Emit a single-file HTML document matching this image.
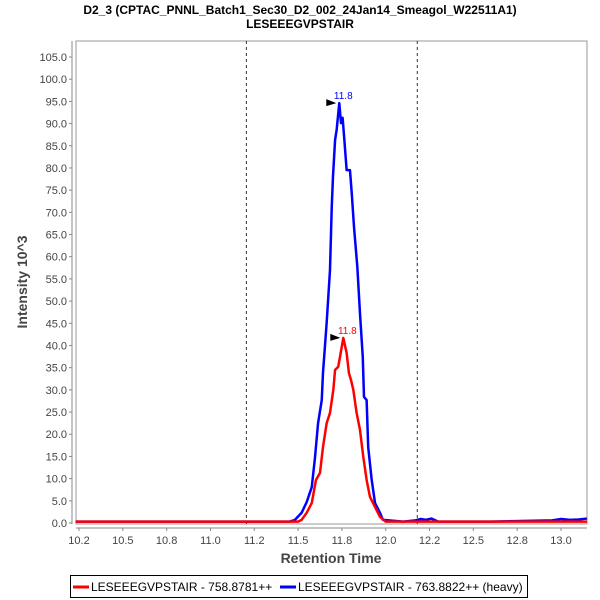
<!DOCTYPE html>
<html><head><meta charset="utf-8"><style>
body{margin:0;background:#fff;}
svg{display:block;font-family:"Liberation Sans",sans-serif;}
</style></head><body>
<svg id="chart" width="600" height="600">
<text x="300" y="14" text-anchor="middle" font-size="12" font-weight="bold">D2_3 (CPTAC_PNNL_Batch1_Sec30_D2_002_24Jan14_Smeagol_W22511A1)</text>
<text x="300" y="28" text-anchor="middle" font-size="12" font-weight="bold">LESEEEGVPSTAIR</text>
<rect x="76" y="41" width="511" height="483" fill="#fff" stroke="#999"/>
<line x1="72" y1="41" x2="72" y2="524" stroke="#888"/>
<line x1="76" y1="528" x2="587" y2="528" stroke="#888"/>
<g id="yticks"></g><g id="xticks"></g><g id="marks"></g>
<text transform="translate(27,282) rotate(-90)" text-anchor="middle" font-size="14" font-weight="bold" fill="#444">Intensity 10^3</text>
<text x="331" y="563" text-anchor="middle" font-size="14" font-weight="bold" fill="#444">Retention Time</text>
<g>
<rect x="70.5" y="575.5" width="457" height="22" fill="#fff" stroke="#000"/>
<line x1="73" y1="587" x2="89" y2="587" stroke="#f00" stroke-width="3"/>
<text x="91" y="591" font-size="12">LESEEEGVPSTAIR - 758.8781++</text>
<line x1="280" y1="587" x2="296" y2="587" stroke="#00f" stroke-width="3"/>
<text x="298" y="591" font-size="12">LESEEEGVPSTAIR - 763.8822++ (heavy)</text>
</g>
</svg>
<script>
const yTicks=[0,5,10,15,20,25,30,35,40,45,50,55,60,65,70,75,80,85,90,95,100,105];
const xTicks=[10.25,10.5,10.75,11,11.25,11.5,11.75,12,12.25,12.5,12.75,13];
const xTickLabels=["10.2","10.5","10.8","11.0","11.2","11.5","11.8","12.0","12.2","12.5","12.8","13.0"];
const markerTimes=[11.205,12.18];
const lightTimes=[10.23,10.6,11.0,11.50,11.520,11.549,11.578,11.602,11.625,11.642,11.663,11.682,11.701,11.711,11.729,11.743,11.758,11.777,11.790,11.802,11.815,11.834,11.853,11.872,11.891,11.910,11.939,11.967,12.0,12.4,12.8,13.148];
const lightValues=[0.3,0.3,0.3,0.3,0.7,2.3,4.5,9.7,11.3,17.1,22.5,24.8,30.0,34.5,35.2,38.3,41.7,38.3,33.8,32.2,30.0,24.8,21.0,14.9,9.7,5.9,3.6,1.4,0.3,0.3,0.3,0.3];
const heavyTimes=[10.23,10.6,11.0,11.45,11.482,11.520,11.549,11.578,11.596,11.614,11.635,11.642,11.663,11.682,11.692,11.699,11.711,11.720,11.735,11.745,11.754,11.764,11.777,11.796,11.806,11.819,11.838,11.853,11.869,11.876,11.891,11.900,11.920,11.939,11.967,11.984,12.1,12.17,12.2,12.23,12.26,12.3,12.6,12.95,13.0,13.05,13.1,13.148];
const heavyValues=[0.3,0.3,0.3,0.3,0.7,2.3,4.7,8.1,14.6,22.5,27.7,33.8,45.1,57.0,71.2,78.0,86.3,88.6,94.6,90.1,91.3,86.3,79.5,79.5,74.4,66.7,57.7,47.3,37.4,28.4,27.7,17.1,9.7,4.5,2.3,0.7,0.3,0.6,0.9,0.7,1.0,0.3,0.3,0.6,0.9,0.7,0.8,1.0];
const peakLabels=["11.8","11.8"];
const X0=10.25,X1=13.0,PX0=79,PX1=561,Y0=523,PYS=466/105;
function sx(t){return PX0+(t-X0)*(PX1-PX0)/(X1-X0);}
function sy(v){return Y0-v*PYS;}
const NS="http://www.w3.org/2000/svg";
function mk(tag,attrs,parent){const e=document.createElementNS(NS,tag);for(const k in attrs)e.setAttribute(k,attrs[k]);parent.appendChild(e);return e;}
const yg=document.getElementById('yticks'),xg=document.getElementById('xticks'),mg=document.getElementById('marks');
yTicks.forEach(v=>{
  const l=mk('line',{x1:69,x2:72,y1:sy(v),y2:sy(v),stroke:'#888'},yg);
  
  
  const t=mk('text',{x:67,y:sy(v)+4,'text-anchor':'end','font-size':11,fill:'#444'},yg);
  t.textContent=v.toFixed(1);
  
  
});
xTicks.forEach((v,i)=>{
  const l=mk('line',{x1:sx(v),x2:sx(v),y1:528,y2:531,stroke:'#888'},xg);
  
  
  const t=mk('text',{x:sx(v),y:544,'text-anchor':'middle','font-size':11,fill:'#444'},xg);
  t.textContent=xTickLabels[i];
  
  
});
markerTimes.forEach(m=>{
  const l=mk('line',{x1:sx(m),x2:sx(m),y1:41,y2:524,stroke:'#333','stroke-dasharray':'3,3'},mg);
  
  
});
function series(ts,vs,color,name){
  const p=mk('polyline',{points:ts.map((t,i)=>sx(t)+','+sy(vs[i])).join(' '),fill:'none',stroke:color,'stroke-width':2.5,'stroke-linejoin':'round'},mg);
  
  
}
series(heavyTimes,heavyValues,'#00f','heavy-series-line');
series(lightTimes,lightValues,'#f00','light-series-line');
function peak(ts,vs,color,label,name){
  let mi=0;vs.forEach((v,i)=>{if(v>vs[mi])mi=i;});
  const x=sx(ts[mi]),y=sy(vs[mi]);
  const a=mk('polygon',{points:(x-13)+','+(y-4)+' '+(x-3)+','+(y)+' '+(x-13)+','+(y+3),fill:'#000'},mg);
  
  
  const t=mk('text',{x:x+4,y:y-4,'font-size':10,fill:color,'text-anchor':'middle'},mg);
  t.textContent=label;
  
  
}
peak(heavyTimes,heavyValues,'#00f',peakLabels[1],'heavy-peak');
peak(lightTimes,lightValues,'#f00',peakLabels[0],'light-peak');
</script>
</body></html>
